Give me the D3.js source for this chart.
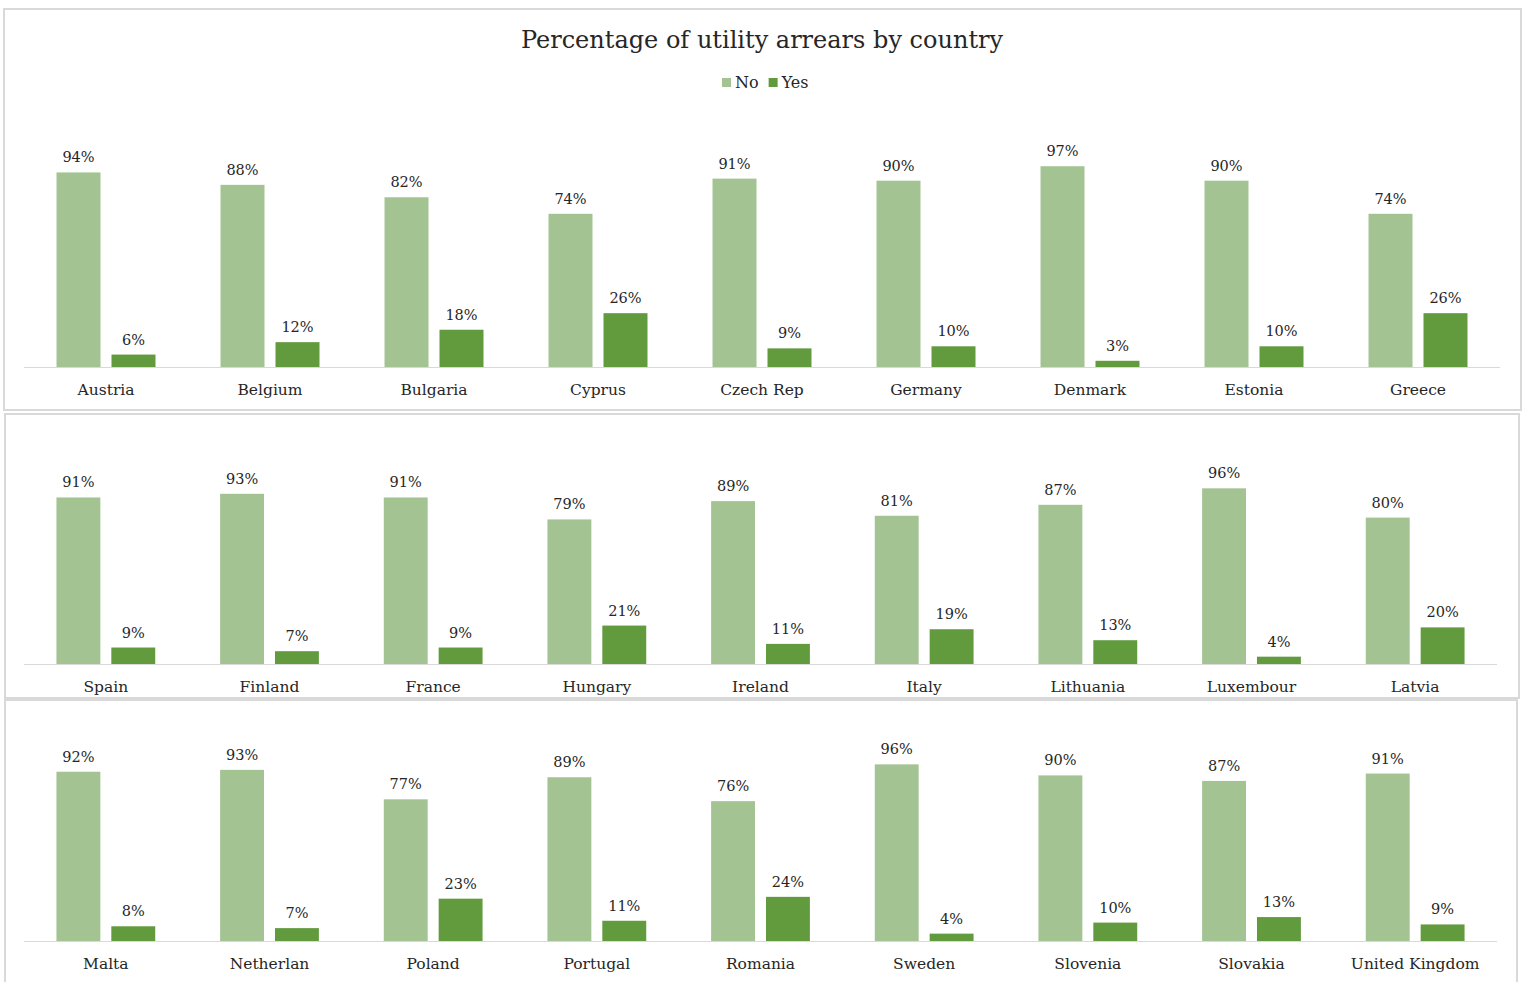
<!DOCTYPE html>
<html>
<head>
<meta charset="utf-8">
<script src="https://cdn.jsdelivr.net/npm/d3@7"></script>
<style>
  body { margin: 0; background: #fff; }
  svg { display: block; font-family: "DejaVu Serif", "Liberation Serif", serif; }
</style>
</head>
<body>
<svg id="chart" width="1528" height="982"></svg>
<script>
// countries, shown nine per row
const countries = ["Austria", "Belgium", "Bulgaria", "Cyprus", "Czech Rep", "Germany", "Denmark", "Estonia", "Greece",
    "Spain", "Finland", "France", "Hungary", "Ireland", "Italy", "Lithuania", "Luxembour", "Latvia",
    "Malta", "Netherlan", "Poland", "Portugal", "Romania", "Sweden", "Slovenia", "Slovakia", "United Kingdom"];
const noValues = [94, 88, 82, 74, 91, 90, 97, 90, 74,
    91, 93, 91, 79, 89, 81, 87, 96, 80,
    92, 93, 77, 89, 76, 96, 90, 87, 91];
const yesValues = [6, 12, 18, 26, 9, 10, 3, 10, 26,
    9, 7, 9, 21, 11, 19, 13, 4, 20,
    8, 7, 23, 11, 24, 4, 10, 13, 9];
const series = ["No", "Yes"];
const colors = {No: "#a3c492", Yes: "#629a3e"};

const svg = d3.select("#chart");

// panel layout: box, baseline, plot width, bar height for 100%
let panels = [
    {box: [4, 9, 1517, 401], base: 367, x0: 24, x1: 1500, h: 207},
    {box: [5, 414, 1514, 284], base: 664, x0: 24, x1: 1497, h: 183},
    {box: [5, 700, 1512, 300], base: 941, x0: 24, x1: 1497, h: 184}
];

panels.forEach((p, i) => {
    let rows = countries.slice(i * 9, i * 9 + 9).map((c, j) => ({
        country: c, No: noValues[i * 9 + j], Yes: yesValues[i * 9 + j]
    }));

    let g = svg.append("g");

    g.append("rect")
        .attr("x", p.box[0]).attr("y", p.box[1])
        .attr("width", p.box[2]).attr("height", p.box[3])
        .attr("fill", "#fff")
        .attr("stroke", "#d9d9d9")
        .attr("stroke-width", 2);

    let x = d3.scaleBand().domain(rows.map(d => d.country)).range([p.x0, p.x1]);
    let xs = d3.scaleBand().domain(series).range([0, x.bandwidth()])
        .paddingInner(0.2).paddingOuter(0.591);
    let y = d3.scaleLinear().domain([0, 100]).range([p.base, p.base - p.h]);

    let groups = g.selectAll(".grp")
        .data(rows)
        .join("g")
        .attr("class", "grp")
        .attr("transform", d => `translate(${x(d.country)},0)`);

    groups.selectAll("rect")
        .data(d => series.map(s => ({s: s, v: d[s]})))
        .join("rect")
        .attr("x", d => xs(d.s))
        .attr("width", xs.bandwidth())
        .attr("y", d => y(d.v))
        .attr("height", d => y(0) - y(d.v))
        .attr("fill", d => colors[d.s]);

    groups.selectAll(".val")
        .data(d => series.map(s => ({s: s, v: d[s]})))
        .join("text")
        .attr("class", "val")
        .attr("x", d => xs(d.s) + xs.bandwidth() / 2)
        .attr("y", d => y(d.v) - 10)
        .attr("text-anchor", "middle")
        .attr("font-size", 14.5)
        .attr("fill", "#262626")
        .text(d => d.v + "%");

    // category axis
    g.append("line")
        .attr("x1", p.x0).attr("x2", p.x1)
        .attr("y1", p.base + 0.5).attr("y2", p.base + 0.5)
        .attr("stroke", "#d9d9d9");

    g.selectAll(".cat")
        .data(rows)
        .join("text")
        .attr("class", "cat")
        .attr("x", d => x(d.country) + x.bandwidth() / 2)
        .attr("y", p.base + 28)
        .attr("text-anchor", "middle")
        .attr("font-size", 15.5)
        .attr("fill", "#262626")
        .text(d => d.country);
});

// title and legend
svg.append("text")
    .attr("x", 762).attr("y", 48)
    .attr("text-anchor", "middle")
    .attr("font-size", 24)
    .attr("fill", "#262626")
    .text("Percentage of utility arrears by country");

let legend = svg.append("g").attr("transform", "translate(722,78)");
let lx = 0;
series.forEach(s => {
    legend.append("rect").attr("x", lx).attr("y", 0).attr("width", 9).attr("height", 9).attr("fill", colors[s]);
    let t = legend.append("text").attr("x", lx + 13).attr("y", 10)
        .attr("font-size", 16).attr("fill", "#262626").text(s);
    lx += 13 + t.node().getComputedTextLength() + 10;
});
</script>
</body>
</html>
